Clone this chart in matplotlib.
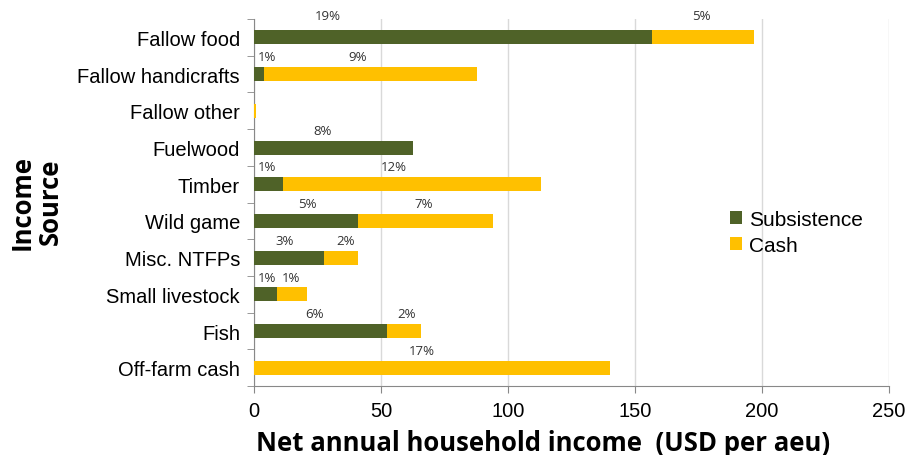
import matplotlib
matplotlib.use("Agg")
import matplotlib.pyplot as plt
import numpy as np

categories = ["Fallow food", "Fallow handicrafts", "Fallow other", "Fuelwood", "Timber",
              "Wild game", "Misc. NTFPs", "Small livestock", "Fish", "Off-farm cash"]
subsistence = [156.7, 4.1, 0.0, 62.7, 11.4, 41.0, 27.6, 9.0, 52.2, 0.0]
cash = [40.3, 83.7, 1.0, 0.0, 101.6, 53.0, 13.4, 11.7, 13.4, 140.0]
subs_pct = ["19%", "1%", "", "8%", "1%", "5%", "3%", "1%", "6%", ""]
cash_pct = ["5%", "9%", "", "", "12%", "7%", "2%", "1%", "2%", "17%"]
# label x positions (data units) as placed in the original chart
subs_lbl_x = [29, 5, None, 27, 5, 21, 12, 5, 24, None]
cash_lbl_x = [176, 41, None, None, 55, 67, 36, 14.5, 60, 66]

green = "#4F6228"
yellow = "#FFC000"

fig = plt.figure(figsize=(9.07, 4.56), dpi=100)
ax = fig.add_axes([0.280, 0.151, 0.700, 0.805])

y = np.arange(len(categories))
ax.barh(y, subsistence, height=0.38, color=green, label="Subsistence", zorder=3)
ax.barh(y, cash, left=subsistence, height=0.38, color=yellow, label="Cash", zorder=3)

lblfont = dict(family="Open Sans", fontsize=9.5, color="#333333")
for i in range(len(categories)):
    dy = 0.6 if i == 0 else 0.47
    if subs_pct[i]:
        ax.text(subs_lbl_x[i], i - dy, subs_pct[i], ha="center", va="center", **lblfont)
    if cash_pct[i]:
        ax.text(cash_lbl_x[i], i - dy, cash_pct[i], ha="center", va="center", **lblfont)

ax.set_xlim(0, 250)
ax.set_ylim(len(categories) - 0.5, -0.5)
ax.set_xticks([0, 50, 100, 150, 200, 250])
ax.set_yticks(y)
ax.set_yticklabels(categories, family="Liberation Sans", fontsize=14.5)
ax.set_yticks(np.arange(-0.5, len(categories), 1), minor=True)
ax.tick_params(axis="y", which="major", length=0, pad=10)
ax.tick_params(axis="y", which="minor", length=5, color="#888888", direction="out")
ax.tick_params(axis="x", length=5, color="#888888", direction="out", pad=6, labelsize=14.5)
for lab in ax.get_xticklabels():
    lab.set_family("Liberation Sans")

ax.grid(axis="x", color="#D9D9D9", linewidth=1, zorder=0)
ax.spines["top"].set_visible(False)
ax.spines["right"].set_visible(False)
ax.spines["left"].set_color("#888888")
ax.spines["bottom"].set_color("#888888")

fig.text(0.599, 0.028, "Net annual household income  (USD per aeu)", family="Open Sans",
         fontweight="bold", fontsize=18.5, ha="center", va="center")
fig.text(0.040, 0.557, "Income\nSource", rotation=90, ha="center", va="center",
         family="Open Sans", fontweight="bold", fontsize=18.5, linespacing=1.05)

leg = ax.legend(loc="center left", bbox_to_anchor=(0.72, 0.419), frameon=False,
                prop=dict(family="Liberation Sans", size=15), handlelength=0.6,
                handleheight=0.6, handletextpad=0.3, labelspacing=0.35)

fig.savefig("out.png", dpi=100)
